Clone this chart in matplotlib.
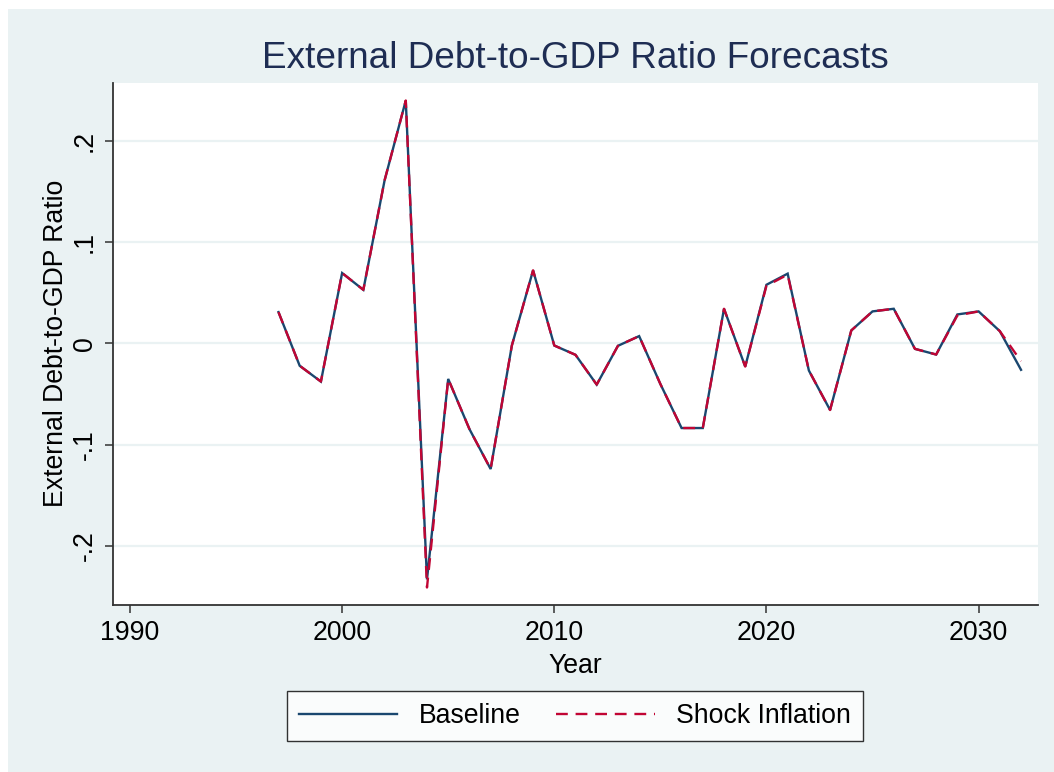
import matplotlib
matplotlib.use("Agg")
import matplotlib.pyplot as plt
from matplotlib.patches import Rectangle
from matplotlib.lines import Line2D

plt.rcParams['font.family'] = ['Liberation Sans', 'DejaVu Sans']

years = list(range(1997, 2033))
baseline = [0.031, -0.022, -0.0376, 0.0696, 0.053, 0.161, 0.240, -0.233, -0.035, -0.0845,
            -0.124, -0.002, 0.0723, -0.002, -0.0112, -0.0406, -0.0023, 0.0073, -0.040, -0.0835,
            -0.0835, 0.0343, -0.0228, 0.058, 0.069, -0.0267, -0.0657, 0.0129, 0.0317, 0.0343,
            -0.0053, -0.0109, 0.0287, 0.0317, 0.0122, -0.026]
shock_inflation = [0.031, -0.022, -0.0376, 0.0696, 0.053, 0.161, 0.240, -0.241, -0.035, -0.0845,
                   -0.124, -0.002, 0.0723, -0.002, -0.0112, -0.0406, -0.0023, 0.0073, -0.040, -0.0835,
                   -0.0835, 0.0343, -0.0228, 0.057, 0.068, -0.0267, -0.0657, 0.0129, 0.0317, 0.0343,
                   -0.0053, -0.0109, 0.0277, 0.0317, 0.0122, -0.0175]
x_ticks = [1990, 2000, 2010, 2020, 2030]
y_ticks = [-0.2, -0.1, 0.0, 0.1, 0.2]
y_tick_labels = ['-.2', '-.1', '0', '.1', '.2']

BG = '#EAF2F3'
NAVY = '#1A476F'
CRANBERRY = '#C10534'
TITLE = '#1E2D53'
FS = 19.2

W, H = 1054, 772
fig = plt.figure(figsize=(W / 100, H / 100), dpi=100)
fig.patch.set_facecolor('white')
fig.patches.append(Rectangle((8 / W, 0), 1 - 8 / W, 1 - 9 / H, transform=fig.transFigure,
                             facecolor=BG, edgecolor='none', zorder=-10))

ax = fig.add_axes([113 / W, (H - 604.5) / H, (1038 - 113) / W, (604.5 - 83) / H])
ax.set_facecolor('white')
for s in ('top', 'right'):
    ax.spines[s].set_visible(False)
for s in ('left', 'bottom'):
    ax.spines[s].set_color('#333333')
    ax.spines[s].set_linewidth(1.3)

ax.plot(years, baseline, color=NAVY, lw=1.7, solid_joinstyle='miter', zorder=3)
ax.plot(years, shock_inflation, color=CRANBERRY, lw=1.7, dashes=(5.0, 3.3), zorder=4)

ax.set_xlim(1989.2, 2032.8)
ax.set_ylim(-0.2578, 0.2573)
ax.set_xticks(x_ticks)
ax.set_xticklabels([str(v) for v in x_ticks])
ax.set_yticks(y_ticks)
ax.set_yticklabels(y_tick_labels, rotation=90, va='center')
ax.tick_params(axis='both', direction='out', length=6, width=1.1, color='#333333',
               labelsize=FS, labelcolor='black', pad=5)
ax.grid(axis='y', color=BG, lw=1.6)
ax.set_axisbelow(True)

ax.set_xlabel('Year', fontsize=FS, labelpad=5)
ax.set_ylabel('External Debt-to-GDP Ratio', fontsize=FS, labelpad=2)

fig.text(575 / W, 1 - 58 / H, 'External Debt-to-GDP Ratio Forecasts', ha='center', va='center',
         fontsize=26.6, color=TITLE)

handles = [Line2D([], [], color=NAVY, lw=1.7),
           Line2D([], [], color=CRANBERRY, lw=1.7, dashes=(5.0, 3.3))]
leg = fig.legend(handles, ['Baseline', 'Shock Inflation'], loc='center',
                 bbox_to_anchor=(575 / W, 1 - 716 / H), ncol=2, fontsize=FS,
                 frameon=True, fancybox=False, handlelength=3.7, columnspacing=1.34,
                 handletextpad=0.8, borderpad=0.45, borderaxespad=0)
leg.get_frame().set_edgecolor('black')
leg.get_frame().set_linewidth(1.0)
leg.get_frame().set_facecolor('white')

fig.savefig('out.png', dpi=100, facecolor=fig.get_facecolor())
